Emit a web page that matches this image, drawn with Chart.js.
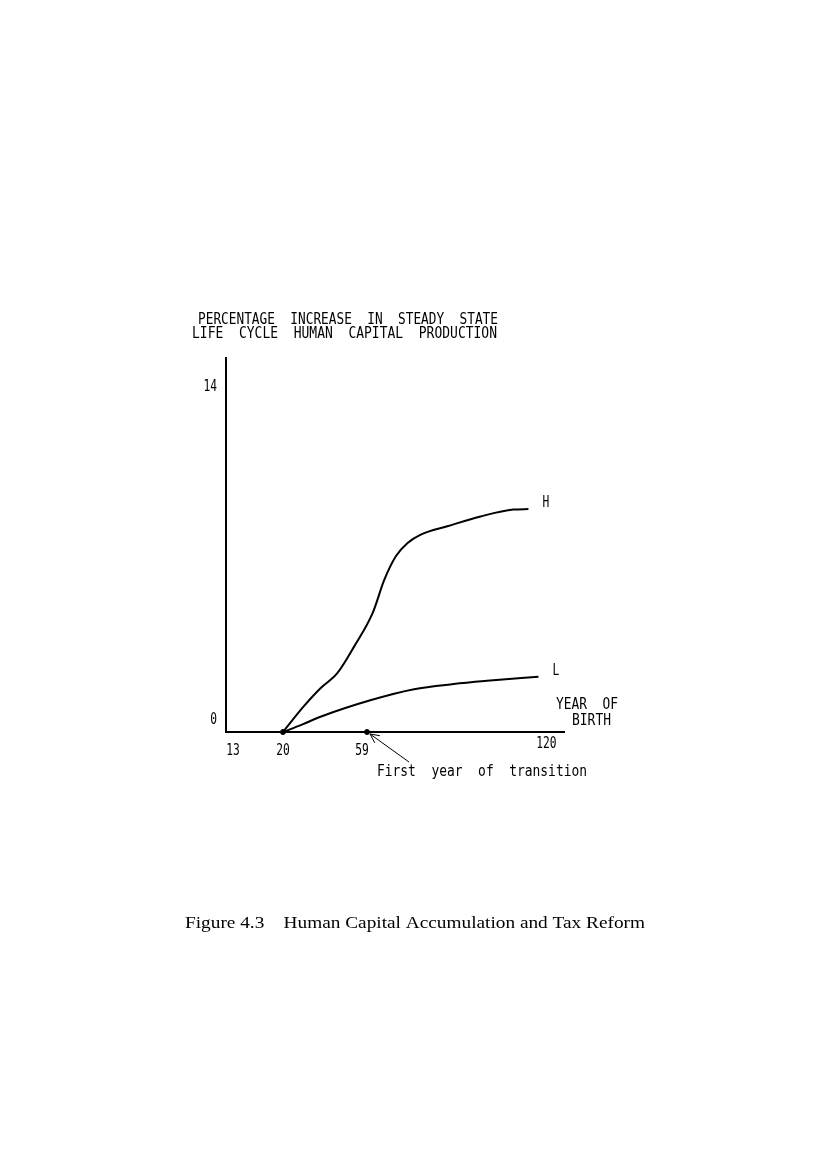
<!DOCTYPE html>
<html>
<head>
<meta charset="utf-8">
<script src="https://cdn.jsdelivr.net/npm/chart.js@4/dist/chart.umd.min.js"></script>
<style>
  html, body { margin: 0; padding: 0; background: #fff; }
  #wrap { position: relative; width: 827px; height: 1170px; }
</style>
</head>
<body>
<div id="wrap"><canvas id="myChart" width="827" height="1170"></canvas></div>
<script>
// values (x = year of birth, y = % increase)
const hYears  = [20, 29.5, 37.4, 45.2, 53.0, 60.9, 64.9, 68.8, 72.8, 77.3, 86.3, 97.6, 108.8, 113.9];
const hValues = [0, 1.03, 1.78, 2.39, 3.47, 4.83, 6.19, 7.14, 7.68, 8.02, 8.36, 8.76, 9.04, 9.06];
const lYears  = [20, 28.8, 37.4, 60.4, 75.0, 88.5, 99.8, 117.3];
const lValues = [0, 0.30, 0.62, 1.30, 1.74, 1.95, 2.08, 2.25];
const markerYears  = [20, 59];
const markerValues = [0, 0];
const xTicks = [13, 20, 59, 120];
const yTicks = [0, 14];
const seriesNames = ['H', 'L'];

const ctx = document.getElementById('myChart');

// the x axis of the original is a sketch, not to scale: bend it between the labelled years
const bendYears = [12, 20, 59, 126];
const bendFrac  = [0, 0.1686, 0.4172, 1];

function warp(v) {
    for (let i = 1; i < bendYears.length; i++) {
        if (v <= bendYears[i] || i === bendYears.length - 1) {
            const t = (v - bendYears[i-1]) / (bendYears[i] - bendYears[i-1]);
            return bendFrac[i-1] + t * (bendFrac[i] - bendFrac[i-1]);
        }
    }
}
function unwarp(f) {
    for (let i = 1; i < bendFrac.length; i++) {
        if (f <= bendFrac[i] || i === bendFrac.length - 1) {
            const t = (f - bendFrac[i-1]) / (bendFrac[i] - bendFrac[i-1]);
            return bendYears[i-1] + t * (bendYears[i] - bendYears[i-1]);
        }
    }
}

class SketchScale extends Chart.LinearScale {
    getPixelForValue(v) { return this.getPixelForDecimal(warp(v)); }
    getValueForPixel(p) { return unwarp(this.getDecimalForPixel(p)); }
}
SketchScale.id = 'sketch';
SketchScale.defaults = Chart.LinearScale.defaults;
Chart.register(SketchScale);

function toPoints(xs, ys) {
    return xs.map((x, i) => ({x: x, y: ys[i]}));
}

// typewriter-like text: mono font squeezed sideways
function drawText(c, s, x, y, o) {
    c.save();
    c.font = o.font || '15px "DejaVu Sans Mono"';
    const w = c.measureText(s).width;
    const sx = o.width ? o.width / w : (o.sx || 0.75);
    const full = w * sx;
    let left = x;
    if (o.align === 'center') left = x - full / 2;
    else if (o.align === 'right') left = x - full;
    c.translate(left, y);
    c.scale(sx, 1);
    c.textAlign = 'left';
    c.textBaseline = 'middle';
    c.fillStyle = '#000';
    c.fillText(s, 0, 0);
    c.restore();
}

const textPlugin = {
    id: 'sketchText',
    afterDraw(chart) {
        const c = chart.ctx;
        const xs = chart.scales.x, ys = chart.scales.y;
        const area = chart.chartArea;

        drawText(c, 'PERCENTAGE  INCREASE  IN  STEADY  STATE', 198, 320, {width: 300});
        drawText(c, 'LIFE  CYCLE  HUMAN  CAPITAL  PRODUCTION', 192, 334, {width: 305});

        // y tick labels (the 0 sits a little above the axis in the original)
        yTicks.forEach(v => {
            const py = ys.getPixelForValue(v) - (v === 0 ? 12 : 0);
            drawText(c, String(v), 217, py, {align: 'right'});
        });
        // x tick labels
        xTicks.forEach(v => {
            const px = xs.getPixelForValue(v) - (v === 59 ? 5 : 0);
            drawText(c, String(v), px, area.bottom + (v === 120 ? 12 : 19), {align: 'center'});
        });

        // series labels at the end of each curve
        chart.data.datasets.slice(0, 2).forEach((ds, i) => {
            const last = ds.data[ds.data.length - 1];
            const px = xs.getPixelForValue(last.x), py = ys.getPixelForValue(last.y);
            drawText(c, seriesNames[i], px + 14, py - 6, {sx: 0.75});
        });

        drawText(c, 'YEAR  OF', area.right - 8, area.bottom - 27, {width: 62});
        drawText(c, 'BIRTH', area.right + 8, area.bottom - 11, {width: 39});

        // arrow to the first year of transition
        const tx = xs.getPixelForValue(markerYears[1]) + 3;
        const ty = ys.getPixelForValue(0) + 2;
        const ex = tx + 39, ey = ty + 28;
        const ang = Math.atan2(ey - ty, ex - tx);
        c.save();
        c.strokeStyle = '#000';
        c.lineWidth = 1;
        c.beginPath();
        c.moveTo(ex, ey); c.lineTo(tx, ty);
        c.moveTo(tx, ty); c.lineTo(tx + 10 * Math.cos(ang - 0.45), ty + 10 * Math.sin(ang - 0.45));
        c.moveTo(tx, ty); c.lineTo(tx + 10 * Math.cos(ang + 0.45), ty + 10 * Math.sin(ang + 0.45));
        c.stroke();
        c.restore();
        drawText(c, 'First  year  of  transition', 377, area.bottom + 40, {width: 210});

        drawText(c, 'Figure 4.3    Human Capital Accumulation and Tax Reform', 185, 924,
            {width: 460, font: '16px "Liberation Serif"'});
    }
};

const myChart = new Chart(ctx, {
    type: 'line',
    data: {
        datasets: [{
            label: seriesNames[0],
            data: toPoints(hYears, hValues),
            borderColor: '#000',
            borderWidth: 2,
            pointRadius: 0,
            cubicInterpolationMode: 'monotone',
            clip: false
        }, {
            label: seriesNames[1],
            data: toPoints(lYears, lValues),
            borderColor: '#000',
            borderWidth: 2,
            pointRadius: 0,
            cubicInterpolationMode: 'monotone',
            clip: false
        }, {
            type: 'scatter',
            data: toPoints(markerYears, markerValues),
            backgroundColor: '#000',
            borderColor: '#000',
            pointRadius: 2.5,
            clip: false
        }]
    },
    options: {
        responsive: false,
        animation: false,
        devicePixelRatio: 1,
        layout: {
            padding: {left: 226, right: 263, top: 358, bottom: 438}
        },
        scales: {
            x: {
                type: 'sketch',
                min: bendYears[0],
                max: bendYears[bendYears.length - 1],
                afterBuildTicks: s => { s.ticks = xTicks.map(v => ({value: v})); },
                ticks: {display: false},
                grid: {display: false, drawTicks: false},
                border: {display: true, color: '#000', width: 2}
            },
            y: {
                type: 'linear',
                min: 0,
                max: 15.2,
                afterBuildTicks: s => { s.ticks = yTicks.map(v => ({value: v})); },
                ticks: {display: false},
                grid: {display: false, drawTicks: false},
                border: {display: true, color: '#000', width: 2}
            }
        },
        plugins: {
            legend: {display: false},
            tooltip: {enabled: false},
            title: {display: false}
        }
    },
    plugins: [textPlugin]
});
</script>
</body>
</html>
